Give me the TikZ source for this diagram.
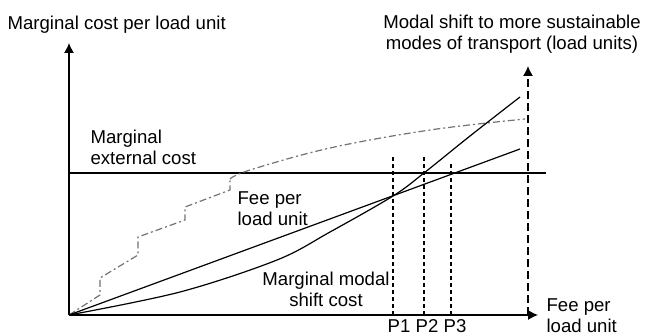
\documentclass[tikz,border=0pt]{standalone}
\usepackage{fontspec}
\setmainfont{Liberation Sans}
\usetikzlibrary{arrows.meta,positioning}

\begin{document}
\begin{tikzpicture}[x=0.5pt,y=-0.5pt,line width=0.6pt,
  every node/.style={inner sep=0pt,font=\fontsize{9.3}{10.6}\selectfont},
  axisarrow/.style={-{Latex[length=5pt,width=5pt]}},
  guide/.style={dash pattern=on 2pt off 1.5pt},
  extcurve/.style={black!55,dash pattern=on 3.5pt off 1.5pt on 1pt off 1.5pt}]

\useasboundingbox (0,0) rectangle (649,336);

%axes
\coordinate (O) at (69,315);
\coordinate (ytip) at (69,43);
\coordinate (xtip) at (538,315);
\draw[axisarrow] (O) -- (ytip);
\draw[axisarrow] (O) -- (xtip);
\node[anchor=base west] (ylab) at (7,30) {Marginal cost per load unit};
\node[anchor=base west,align=left] (xlab) at (546,333) {Fee per\\load unit};

%modal shift axis
\coordinate (mbot) at (528,315);
\coordinate (mtop) at (528,66);
\draw[axisarrow,dash pattern=on 4pt off 2pt] (mbot) -- (mtop);
\node[anchor=base,align=center] (mlab) at (512,50) {Modal shift to more sustainable\\modes of transport (load units)};

%marginal external cost
\coordinate (ext0) at (69,173);
\coordinate (ext1) at (546,173);
\draw (ext0) -- (ext1);
\node[anchor=base west,align=left] (extlab) at (90,165) {Marginal\\external cost};

%stepped curve
\draw[extcurve] (O) -- (100,295) -- (100,278) -- (138,255) -- (138,237)
  -- (185,220) -- (185,207) -- (230,190) -- (230,179)
  plot[smooth,tension=0.6] coordinates {(230,179) (250,170) (330,148) (430,130) (525,119)};

%fee line
\coordinate (fee1) at (520,149);
\draw (O) -- (fee1);
\node[anchor=base west,align=left] (feelab) at (237,226) {Fee per\\load unit};

%modal shift cost curve
\draw plot[smooth,tension=0.55] coordinates {(69,315) (180,292) (277,260) (330,232) (393,196) (424,173) (470,136) (520,97)};
\node[anchor=base,align=center] (costlab) at (326,307) {Marginal modal\\shift cost};

%price levels
\foreach \n/\x/\t/\lx in {1/393/155/399,2/424/157/427,3/451/162/455} {
  \coordinate (p\n b) at (\x,315);
  \coordinate (p\n t) at (\x,\t);
  \draw[guide] (p\n b) -- (p\n t);
  \node[anchor=base] (p\n lab) at (\lx,333) {P\n};
}

\end{tikzpicture}
\end{document}
